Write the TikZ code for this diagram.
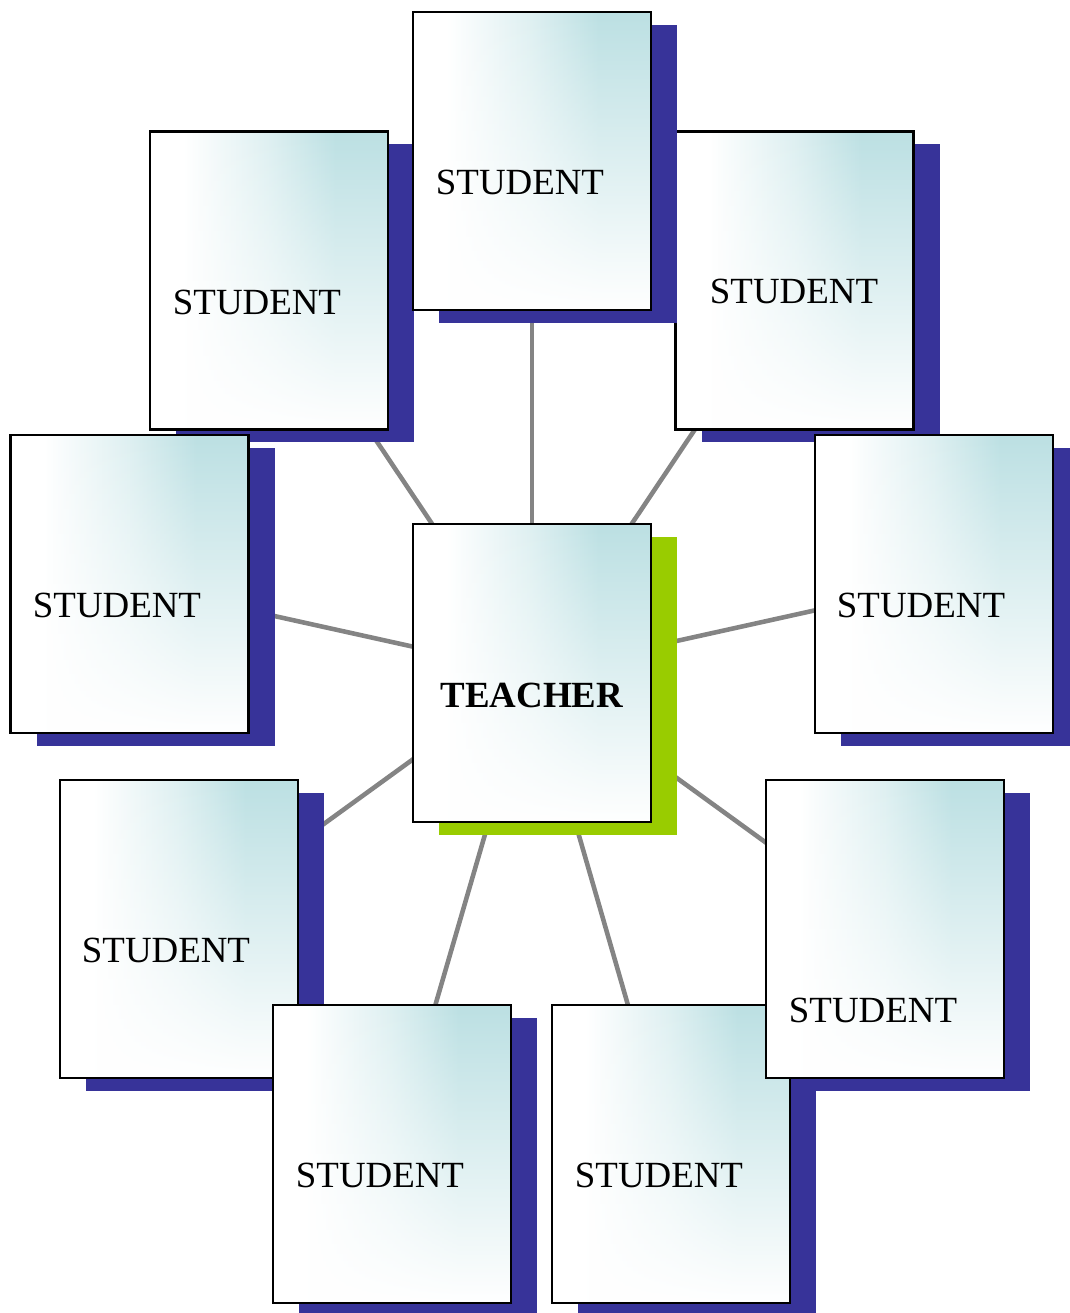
\documentclass[tikz,border=0pt]{standalone}
\usepackage{fontspec}
\setmainfont{Liberation Serif}
\usepackage{tikz}
\usetikzlibrary{shadows,fadings,backgrounds}
\definecolor{shadowblue}{HTML}{373399}
\definecolor{leafgreen}{HTML}{99CC00}
\definecolor{glowteal}{HTML}{BCE0E3}
\definecolor{spokegray}{HTML}{848484}
% card fill: white on the left, teal towards the right edge
\pgfdeclarehorizontalshading{cardshade}{100bp}{color(0bp)=(white); color(32bp)=(white); color(50bp)=(glowteal!50); color(64bp)=(glowteal); color(100bp)=(glowteal)}
% the lower part of each card washes out to white
\tikzfading[name=washout, top color=transparent!100, middle color=transparent!70, bottom color=transparent!0]

\begin{document}
\begin{tikzpicture}[
    card/.style={draw, line width=1.2pt, shading=cardshade, minimum width=4.76cm, minimum height=5.96cm, inner sep=0pt,
      path picture={\fill[white, path fading=washout] (path picture bounding box.south west) rectangle (path picture bounding box.north east);}},
    pupil/.style={card, drop shadow={shadow xshift=0.52cm, shadow yshift=-0.26cm, fill=shadowblue, opacity=1}},
    tutor/.style={card, drop shadow={shadow xshift=0.52cm, shadow yshift=-0.26cm, fill=leafgreen, opacity=1}},
    tag/.style={font=\fontsize{21}{25}\selectfont, inner sep=0pt},
    spoke/.style={draw=spokegray, line width=2.6pt}
]
\useasboundingbox (0,0) rectangle (21.4,26.26);

% Upper ring
\node[pupil] (s2) at (5.38,20.65) {};
\node[tag] (s2t) at (5.14,20.22) {STUDENT};
\node[pupil] (s3) at (15.89,20.65) {};
\node[tag] (s3t) at (15.88,20.44) {STUDENT};
\node[pupil] (s1) at (10.64,23.04) {};
\node[tag] (s1t) at (10.40,22.62) {STUDENT};

% Middle row
\node[pupil] (s4) at (2.59,14.58) {};
\node[tag] (s4t) at (2.34,14.16) {STUDENT};
\node[pupil] (s5) at (18.68,14.58) {};
\node[tag] (s5t) at (18.42,14.16) {STUDENT};
\node[tutor] (teacher) at (10.64,12.80) {};
\node[tag, font=\fontsize{21}{25}\selectfont\bfseries] (teachert) at (10.64,12.36) {TEACHER};

% Lower ring
\node[pupil] (s9) at (13.42,3.18) {};
\node[tag] (s9t) at (13.18,2.76) {STUDENT};
\node[pupil] (s7) at (17.70,7.68) {};
\node[tag] (s7t) at (17.46,6.06) {STUDENT};
\node[pupil] (s6) at (3.58,7.68) {};
\node[tag] (s6t) at (3.32,7.26) {STUDENT};
\node[pupil] (s8) at (7.84,3.18) {};
\node[tag] (s8t) at (7.60,2.76) {STUDENT};

% Spokes run behind the cards
\begin{pgfonlayer}{background}
\draw[spoke] (teacher.center) -- (s1.center);
\draw[spoke] (teacher.center) -- (s2.center);
\draw[spoke] (teacher.center) -- (s3.center);
\draw[spoke] (teacher.center) -- (s4.center);
\draw[spoke] (teacher.center) -- (s5.center);
\draw[spoke] (teacher.center) -- (s6.center);
\draw[spoke] (teacher.center) -- (s7.center);
\draw[spoke] (teacher.center) -- (s8.center);
\draw[spoke] (teacher.center) -- (s9.center);
\end{pgfonlayer}
\end{tikzpicture}
\end{document}
